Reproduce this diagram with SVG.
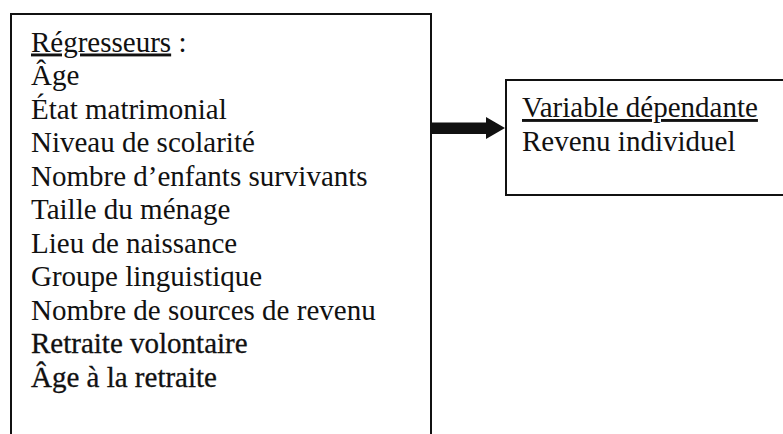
<svg xmlns="http://www.w3.org/2000/svg" width="783" height="434" viewBox="0 0 783 434">
<style>
.box{fill:#fff;stroke:#111;stroke-width:2}
.t{font-family:"Liberation Serif","Times New Roman",serif;font-size:29px;fill:#111}
.b{stroke:#111;stroke-width:0.3}
.u{text-decoration:underline}
</style>
<rect width="783" height="434" fill="#fff"/>
<g id="regresseurs">
<path class="box" d="M11,440 V14 H431 V440"/>
<text class="t" x="31" y="51.5"><tspan class="u">Régresseurs</tspan> :</text>
<text class="t" x="31" y="85">Âge</text>
<text class="t" x="31" y="118.5">État matrimonial</text>
<text class="t" x="31" y="152">Niveau de scolarité</text>
<text class="t" x="31" y="185.5">Nombre d’enfants survivants</text>
<text class="t" x="31" y="219">Taille du ménage</text>
<text class="t" x="31" y="252.5">Lieu de naissance</text>
<text class="t" x="31" y="286">Groupe linguistique</text>
<text class="t" x="31" y="319.5">Nombre de sources de revenu</text>
<text class="t b" x="31" y="353">Retraite volontaire</text>
<text class="t b" x="31" y="386.5">Âge à la retraite</text>
</g>
<g id="variable">
<path class="box" d="M790,80 H506 V195 H790"/>
<text class="t" x="522" y="117"><tspan class="u">Variable dépendante</tspan></text>
<text class="t" x="522" y="150.5">Revenu individuel</text>
</g>
<g id="connectors">
<polygon points="432,122.5 486,122.5 486,117 505,128 486,139 486,134 432,134" fill="#111"/>
</g>
</svg>
